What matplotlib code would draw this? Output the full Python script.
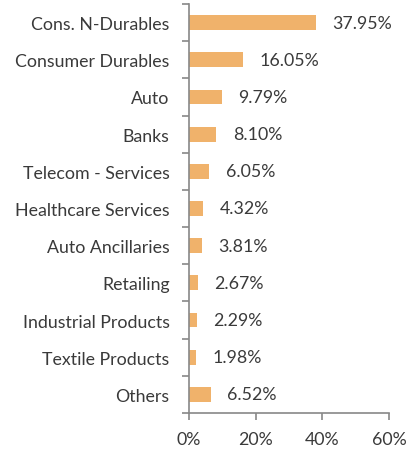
import matplotlib
matplotlib.use("Agg")
import matplotlib.pyplot as plt
from matplotlib.ticker import FuncFormatter, FixedLocator

categories = ["Cons. N-Durables", "Consumer Durables", "Auto", "Banks",
              "Telecom - Services", "Healthcare Services", "Auto Ancillaries",
              "Retailing", "Industrial Products", "Textile Products", "Others"]
values = [37.95, 16.05, 9.79, 8.10, 6.05, 4.32, 3.81, 2.67, 2.29, 1.98, 6.52]
xticks = [0, 20, 40, 60]

plt.rcParams['font.family'] = ['Lato', 'DejaVu Sans']
FS = 12.8
TC = "#3a3a3a"
fig = plt.figure(figsize=(4.17, 4.52), dpi=100)
ax = fig.add_axes([189/417, 1-414/452, 200/417, 409/452])

n = len(categories)
ys = list(range(n))
ax.barh(ys, values, height=0.4, color="#F0B26B")
ax.set_ylim(n - 0.5, -0.5)
ax.set_xlim(0, 60)
ax.set_yticks(ys)
ax.set_yticklabels(categories, fontsize=FS, color=TC)
ax.yaxis.set_minor_locator(FixedLocator([i - 0.5 for i in range(n + 1)]))
ax.tick_params(axis='y', which='major', length=0, pad=14)
ax.tick_params(axis='y', which='minor', length=5, color="#888888", width=1.2)
ax.set_xticks(xticks)
ax.xaxis.set_major_formatter(FuncFormatter(lambda v, p: f"{v:.0f}%"))
ax.tick_params(axis='x', length=5, color="#888888", width=1.2, labelsize=FS,
               labelcolor=TC, pad=8)
for s in ["top", "right"]:
    ax.spines[s].set_visible(False)
for s in ["left", "bottom"]:
    ax.spines[s].set_color("#888888")
    ax.spines[s].set_linewidth(1.2)

for y, v in zip(ys, values):
    ax.annotate(f"{v:.2f}%", (v, y), xytext=(12, 0), textcoords="offset points",
                va="center", ha="left", fontsize=FS, color=TC)

fig.savefig("out.png", dpi=100)
